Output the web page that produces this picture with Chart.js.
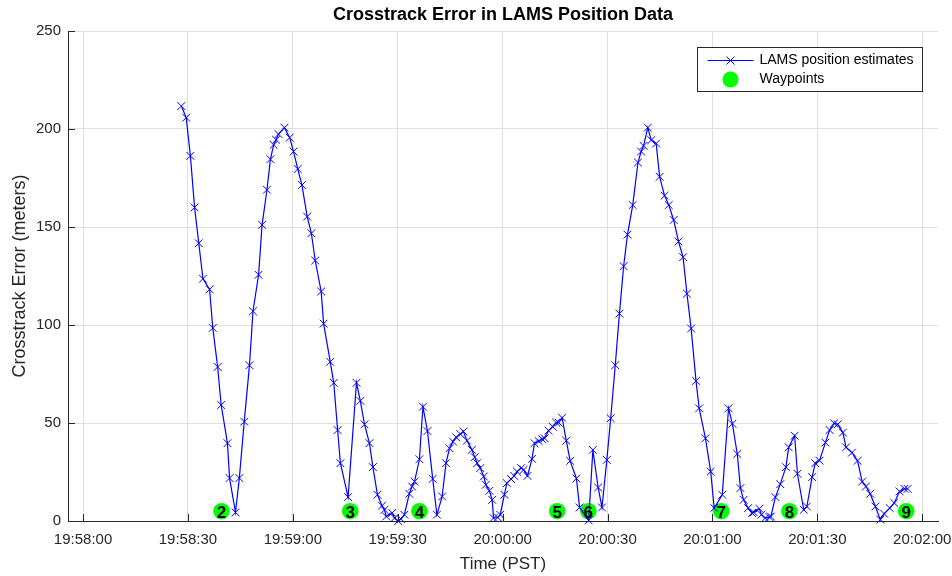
<!DOCTYPE html>
<html>
<head>
<meta charset="utf-8">
<script src="https://cdn.jsdelivr.net/npm/chart.js@4/dist/chart.umd.min.js"></script>
<style>
  html, body { margin: 0; padding: 0; background: #fff; }
  #wrap { width: 952px; height: 576px; }
</style>
</head>
<body>
<div id="wrap"><canvas id="xtrackChart"></canvas></div>
<script>
// seconds after 19:58:00
const startClock = [19, 58, 0];
const tSec = [28.1,29.5,30.7,31.9,33.1,34.3,36.2,37.1,38.5,39.5,
  41.3,41.9,43.6,44.7,46.1,47.6,48.6,50.2,51.2,52.6,
  53.6,54.5,55.2,55.9,57.6,59.1,60.2,61.4,62.6,64.1,
  65.3,66.4,68.1,68.8,70.7,71.7,72.8,73.6,75.8,78.2,
  79.3,80.5,81.9,82.9,84.2,85.5,86.2,86.7,88.4,89.1,
  90.1,90.9,91.9,93.3,94.1,94.8,96.2,97.2,98.5,100.0,
  101.2,102.7,103.8,104.8,105.8,106.7,107.9,108.8,109.8,111.2,
  112.0,112.7,113.6,114.6,115.2,116.2,117.0,117.4,118.6,119.3,
  120.5,121.2,122.4,123.3,124.1,125.3,126.0,127.1,128.4,129.1,
  130.3,131.3,132.0,133.1,134.3,135.3,136.0,137.0,138.2,139.3,
  141.1,142.0,144.6,145.8,147.3,148.4,149.8,150.9,152.2,153.4,
  154.6,155.7,157.2,158.7,159.6,160.3,161.5,162.5,163.9,164.9,
  166.3,167.5,168.9,170.3,171.6,172.7,173.9,175.3,176.2,178.0,
  179.5,180.5,182.8,184.6,185.7,187.1,188.0,188.9,190.2,191.3,
  191.8,193.4,194.0,195.1,196.3,196.7,198.0,199.4,201.0,201.8,
  203.5,204.3,206.1,207.0,208.5,209.4,210.6,212.3,213.5,214.8,
  215.8,217.3,218.2,219.9,221.5,222.8,223.9,225.1,226.6,228.0,
  229.1,230.7,232.0,233.5,234.9,235.8];
const crossErr = [211.7,205.8,186.3,160.0,141.7,123.6,118.2,98.5,78.6,59.2,
  39.7,21.9,4.4,21.9,50.7,79.5,107.0,125.6,151.1,169.0,
  184.6,191.9,194.5,197.4,200.7,195.6,188.5,179.6,171.4,155.3,
  146.8,132.9,117.1,100.7,81.2,70.5,46.4,29.5,12.2,70.5,
  61.3,49.3,39.7,27.5,13.4,7.8,5.7,2.3,4.1,1.5,
  0.0,1.0,3.2,13.9,17.6,20.1,31.5,58.3,45.9,21.5,
  3.2,12.5,29.5,37.1,40.5,42.7,44.4,45.6,41.0,36.3,
  32.6,29.5,27.0,22.7,18.5,15.4,10.8,1.5,1.8,3.2,
  13.4,19.3,21.4,23.0,25.2,27.0,26.1,23.0,31.7,39.7,
  40.8,41.7,42.2,46.1,48.1,50.2,50.2,52.7,41.0,30.7,
  21.7,6.9,0.3,36.3,17.1,6.9,31.2,52.4,79.5,105.8,
  130.0,146.1,161.2,182.9,188.5,191.4,200.7,194.3,192.6,175.6,
  166.0,161.2,153.6,142.6,134.6,116.0,98.2,71.5,57.5,42.2,
  25.2,6.6,13.4,57.5,49.6,34.2,16.8,10.8,6.6,4.1,
  4.4,6.3,3.2,1.5,2.0,2.3,12.2,18.8,27.5,37.6,
  43.5,24.1,5.7,7.4,22.4,29.5,30.8,40.0,46.4,49.8,
  49.3,45.1,37.6,34.9,30.7,20.1,17.6,13.9,7.4,0.7,
  3.7,6.6,9.2,15.1,16.4,16.4];

const wpSec = [39.6, 76.4, 96.2, 135.6, 144.5, 182.5, 202.0, 235.4];
const wpErr = [5, 5, 5, 5, 5, 5, 5, 5];
const wpLabels = ['2', '3', '4', '5', '6', '7', '8', '9'];

const xTickSec = [0, 30, 60, 90, 120, 150, 180, 210, 240];
const xTickLabels = ['19:58:00','19:58:30','19:59:00','19:59:30','20:00:00','20:00:30','20:01:00','20:01:30','20:02:00'];
const yTicks = [0, 50, 100, 150, 200, 250];

const FONT = '"Liberation Sans", Arial, Helvetica, sans-serif';
const AXIS_COLOR = '#262626';
const GRID_COLOR = '#dfdfdf';

// title centred on the axes box, like matlab
const titlePlugin = {
  id: 'axTitle',
  afterDraw(chart) {
    const { ctx, chartArea } = chart;
    ctx.save();
    ctx.font = 'bold 18px ' + FONT;
    ctx.fillStyle = '#000';
    ctx.textAlign = 'center';
    ctx.textBaseline = 'middle';
    ctx.fillText('Crosstrack Error in LAMS Position Data', (chartArea.left + chartArea.right) / 2, 15);
    ctx.restore();
  }
};

// small inward tick marks on both axes
const tickMarks = {
  id: 'tickMarks',
  afterDraw(chart) {
    const { ctx, chartArea, scales } = chart;
    ctx.save();
    ctx.strokeStyle = AXIS_COLOR;
    ctx.lineWidth = 1;
    ctx.beginPath();
    scales.x.ticks.forEach(t => {
      const px = Math.round(scales.x.getPixelForValue(t.value)) + 0.5;
      ctx.moveTo(px, chartArea.bottom);
      ctx.lineTo(px, chartArea.bottom - 7);
    });
    scales.y.ticks.forEach(t => {
      const py = Math.round(scales.y.getPixelForValue(t.value)) + 0.5;
      ctx.moveTo(chartArea.left, py);
      ctx.lineTo(chartArea.left + 7, py);
    });
    ctx.stroke();
    ctx.restore();
  }
};

// numbers written on the waypoint circles
const wpNumbers = {
  id: 'wpNumbers',
  afterDatasetsDraw(chart) {
    const { ctx } = chart;
    const meta = chart.getDatasetMeta(1);
    ctx.save();
    ctx.font = 'bold 17px ' + FONT;
    ctx.fillStyle = '#000';
    ctx.textAlign = 'center';
    ctx.textBaseline = 'middle';
    meta.data.forEach((pt, i) => {
      ctx.fillText(wpLabels[i], pt.x, pt.y + 2);
    });
    ctx.restore();
  }
};

// legend box inside the axes, top right
const boxLegend = {
  id: 'boxLegend',
  afterDraw(chart) {
    const { ctx, chartArea } = chart;
    const ds = chart.data.datasets;
    const w = 225, h = 44;
    const x0 = chartArea.right - 16 - w + 0.5;
    const y0 = chartArea.top + 16 + 0.5;
    ctx.save();
    ctx.fillStyle = '#fff';
    ctx.fillRect(x0, y0, w, h);
    ctx.strokeStyle = AXIS_COLOR;
    ctx.lineWidth = 1;
    ctx.strokeRect(x0, y0, w, h);

    const r1 = y0 + 13, r2 = y0 + 32;
    const mx = x0 + 33;
    // row 1: line with x
    ctx.strokeStyle = ds[0].borderColor;
    ctx.beginPath();
    ctx.moveTo(x0 + 10, r1);
    ctx.lineTo(x0 + 56, r1);
    ctx.moveTo(mx - 4, r1 - 4); ctx.lineTo(mx + 4, r1 + 4);
    ctx.moveTo(mx - 4, r1 + 4); ctx.lineTo(mx + 4, r1 - 4);
    ctx.stroke();
    // row 2: green dot
    ctx.fillStyle = ds[1].backgroundColor;
    ctx.beginPath();
    ctx.arc(mx, r2, 8, 0, Math.PI * 2);
    ctx.fill();

    ctx.fillStyle = '#000';
    ctx.font = '14px ' + FONT;
    ctx.textAlign = 'left';
    ctx.textBaseline = 'middle';
    ctx.fillText(ds[0].label, x0 + 62, r1);
    ctx.fillText(ds[1].label, x0 + 62, r2);
    ctx.restore();
  }
};

document.addEventListener('DOMContentLoaded', function () {
  const ctx = document.getElementById('xtrackChart').getContext('2d');
  new Chart(ctx, {
    type: 'scatter',
    data: {
      datasets: [{
        label: 'LAMS position estimates',
        data: tSec.map((t, i) => ({ x: t, y: crossErr[i] })),
        showLine: true,
        borderColor: '#0000ff',
        backgroundColor: '#0000ff',
        borderWidth: 1.2,
        pointStyle: 'crossRot',
        pointRadius: 5.5,
        pointBorderWidth: 1,
        pointBorderColor: '#0000ff',
        tension: 0,
        clip: false,
        order: 1
      }, {
        label: 'Waypoints',
        data: wpSec.map((t, i) => ({ x: t, y: wpErr[i] })),
        showLine: false,
        pointStyle: 'circle',
        pointRadius: 8.3,
        borderWidth: 0,
        pointBorderWidth: 0,
        backgroundColor: '#00ff00',
        pointBackgroundColor: '#00ff00',
        clip: false,
        order: 2
      }]
    },
    options: {
      responsive: true,
      maintainAspectRatio: false,
      animation: false,
      events: [],
      layout: { padding: { top: 31, right: 14, left: 0, bottom: 0 } },
      plugins: {
        legend: { display: false },
        tooltip: { enabled: false },
        title: { display: false }
      },
      scales: {
        x: {
          type: 'linear',
          min: -4.3,
          max: 244.5,
          afterBuildTicks: s => { s.ticks = xTickSec.map(v => ({ value: v })); },
          afterFit: s => { s.height = 55; s.paddingLeft = 0; s.paddingRight = 0; },
          grid: { color: GRID_COLOR, drawTicks: false },
          border: { display: true, color: AXIS_COLOR, width: 1 },
          ticks: {
            padding: 10,
            maxRotation: 0,
            color: AXIS_COLOR,
            font: { family: FONT, size: 15 },
            callback: v => xTickLabels[xTickSec.indexOf(v)] ?? ''
          },
          title: {
            display: true,
            text: 'Time (PST)',
            color: AXIS_COLOR,
            font: { family: FONT, size: 17 },
            padding: { top: 0, bottom: 1 }
          }
        },
        y: {
          min: 0,
          max: 250,
          afterBuildTicks: s => { s.ticks = yTicks.map(v => ({ value: v })); },
          afterFit: s => { s.width = 68; },
          grid: { color: GRID_COLOR, drawTicks: false },
          border: { display: true, color: AXIS_COLOR, width: 1 },
          ticks: {
            padding: 7,
            color: AXIS_COLOR,
            font: { family: FONT, size: 15 }
          },
          title: {
            display: true,
            text: 'Crosstrack Error (meters)',
            color: AXIS_COLOR,
            font: { family: FONT, size: 18 },
            padding: { top: 9, bottom: 0 }
          }
        }
      }
    },
    plugins: [titlePlugin, tickMarks, wpNumbers, boxLegend]
  });
});
</script>
</body>
</html>
